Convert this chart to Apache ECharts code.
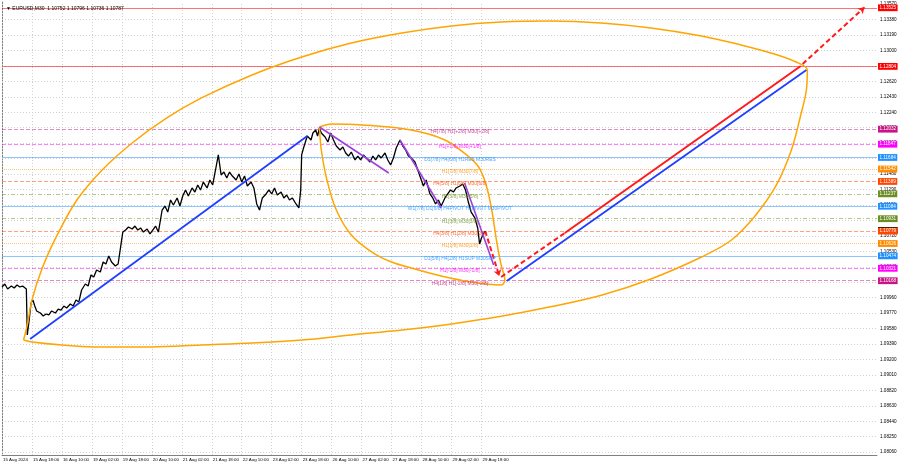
<!DOCTYPE html>
<html><head><meta charset="utf-8">
<script src="https://cdn.jsdelivr.net/npm/echarts@6/dist/echarts.min.js"></script>
<style>html,body{margin:0;padding:0;background:#fff}#c{width:900px;height:468px}</style>
</head><body><div id="c"></div>
<script>
// ---------- DATA ----------
const timeLabels = ['15 Aug 2024','15 Aug 18:00','16 Aug 10:00','19 Aug 02:00','19 Aug 18:00','20 Aug 10:00','21 Aug 02:00','21 Aug 18:00','22 Aug 10:00','23 Aug 02:00','23 Aug 18:00','26 Aug 10:00','27 Aug 02:00','27 Aug 18:00','28 Aug 10:00','29 Aug 02:00','29 Aug 18:00'];
const timeLabelBars = [0,32,64,96,128,160,192,224,256,288,320,352,384,416,448,480,512];
const priceTicks = [1.08060,1.08250,1.08440,1.08630,1.08820,1.09010,1.09200,1.09390,1.09580,1.09770,1.09960,1.10150,1.10340,1.10530,1.10720,1.10910,1.11100,1.11290,1.11480,1.11670,1.11860,1.12050,1.12240,1.12430,1.12620,1.12810,1.13000,1.13190,1.13380,1.13570];
const titleText = 'EURUSD,M30  1.10752 1.10796 1.10736 1.10787';
const currentPrice = 1.10787;

// M30 closes, [bar index, price]
const priceBars = [[0,1.10091],[3,1.10128],[6,1.10066],[10,1.10103],[13,1.10079],[16,1.10116],[19,1.10091],[22,1.10103],[26,1.10066],[27,1.09501],[29,1.09685],[31,1.09894],[33,1.09931],[35,1.09857],[37,1.09796],[41,1.09771],[44,1.09734],[47,1.09759],[50,1.09747],[53,1.09796],[57,1.09771],[60,1.09820],[63,1.09808],[66,1.09857],[69,1.09833],[73,1.09882],[76,1.09857],[79,1.09931],[82,1.09906],[85,1.10054],[89,1.10128],[92,1.10103],[95,1.10239],[98,1.10214],[101,1.10300],[105,1.10275],[108,1.10398],[111,1.10374],[114,1.10472],[117,1.10398],[121,1.10349],[124,1.10374],[127,1.10608],[129,1.10767],[132,1.10792],[135,1.10829],[139,1.10804],[142,1.10841],[145,1.10792],[148,1.10817],[151,1.10767],[155,1.10804],[158,1.10743],[161,1.10792],[164,1.10841],[167,1.10767],[171,1.11038],[174,1.11087],[177,1.11013],[180,1.11161],[183,1.11100],[187,1.11186],[190,1.11087],[193,1.11210],[196,1.11284],[199,1.11210],[203,1.11309],[206,1.11259],[209,1.11346],[212,1.11284],[215,1.11382],[219,1.11309],[222,1.11407],[225,1.11346],[228,1.11530],[231,1.11715],[234,1.11469],[237,1.11505],[240,1.11432],[243,1.11505],[246,1.11456],[250,1.11407],[253,1.11481],[256,1.11382],[259,1.11456],[262,1.11333],[266,1.11382],[269,1.11309],[272,1.11112],[275,1.11038],[278,1.11186],[282,1.11235],[285,1.11284],[288,1.11235],[291,1.11309],[294,1.11223],[298,1.11259],[301,1.11186],[304,1.11223],[307,1.11161],[310,1.11186],[314,1.11112],[317,1.11063],[319,1.11284],[320,1.11715],[322,1.11801],[324,1.11874],[326,1.11948],[330,1.11899],[332,1.11985],[335,1.12022],[337,1.11948],[339,1.12047],[341,1.11985],[345,1.11936],[348,1.11874],[351,1.11985],[354,1.11899],[357,1.11825],[361,1.11776],[364,1.11813],[367,1.11739],[370,1.11702],[373,1.11751],[377,1.11653],[380,1.11702],[383,1.11653],[386,1.11715],[389,1.11678],[393,1.11628],[396,1.11702],[399,1.11653],[402,1.11715],[405,1.11678],[409,1.11739],[412,1.11653],[415,1.11592],[418,1.11678],[421,1.11801],[425,1.11899],[428,1.11825],[431,1.11776],[434,1.11702],[437,1.11678],[441,1.11628],[444,1.11530],[447,1.11432],[450,1.11333],[453,1.11407],[457,1.11235],[460,1.11186],[463,1.11112],[466,1.11161],[469,1.11087],[473,1.11186],[476,1.11235],[479,1.11284],[482,1.11259],[485,1.11309],[489,1.11333],[492,1.11358],[495,1.11284],[498,1.11136],[501,1.11013],[505,1.10940],[508,1.10817],[510,1.10620],[512,1.10694],[514,1.10743],[516,1.10780]];

// Murrey levels
const levelPrices = [1.12032,1.11847,1.11684,1.11542,1.11389,1.11237,1.11084,1.10931,1.10779,1.10626,1.10474,1.10321,1.10168];
const levelNames = ['H4[7/8] H1[+2/8] M30[+2/8]','H1[+1/8] M30[+1/8]','D1[7/8] H4[6/8] H1RES M30RES','H1[7/8] M30[7/8]','H4[5/8] H1[6/8] M30[6/8]','H1[5/8] M30[5/8]','W1[7/8] D1[6/8] H4PIVOT H1PIVOT M30PIVOT','H1[3/8] M30[3/8]','H4[3/8] H1[2/8] M30[2/8]','H1[1/8] M30[1/8]','D1[5/8] H4[2/8] H1SUP M30SUP','H1[-1/8] M30[-1/8]','H4[1/8] H1[-2/8] M30[-2/8]'];
const targetPrices = [1.13525,1.12804];
const levelTextBar = 489;

// trend lines [bar, price] pairs
const blueLine1 = [[30,1.09451],[326,1.11948]];
const blueLine2 = [[539,1.10165],[859,1.12760]];
const purpleLine1 = [[339,1.12059],[413,1.11493]];
const purpleLine2 = [[425,1.11899],[469,1.11063]];
const purpleLine3 = [[494,1.11370],[525,1.10362]];
const redDash1 = [[516,1.10780],[531,1.10226]];
const redDash2 = [[533,1.10214],[601,1.10755]];
const redSolid = [[601,1.10755],[853,1.12809]];
const redDash3 = [[855,1.12834],[921,1.13530]];

// ellipses
const smallEllipse = [[339,1.12059],[352,1.12096],[384,1.12084],[437,1.12022],[473,1.11899],[496,1.11715],[509,1.11567],[517,1.11346],[523,1.11038],[528,1.10669],[533,1.10362],[537,1.10177],[533,1.10116],[501,1.10152],[469,1.10226],[437,1.10325],[416,1.10398],[395,1.10521],[373,1.10731],[357,1.11038],[347,1.11407],[341,1.11776],[339,1.12059]];
const bigEllipse = [[23,1.09439],[27,1.09624],[32,1.09931],[43,1.10325],[59,1.10731],[80,1.11161],[107,1.11530],[139,1.11862],[176,1.12170],[213,1.12416],[267,1.12699],[320,1.12920],[373,1.13092],[427,1.13215],[480,1.13301],[533,1.13350],[587,1.13363],[640,1.13338],[693,1.13277],[747,1.13178],[789,1.13068],[821,1.12969],[848,1.12858],[860,1.12760],[859,1.12514],[853,1.12207],[843,1.11776],[827,1.11346],[805,1.10977],[779,1.10669],[747,1.10460],[693,1.10190],[640,1.09990],[587,1.09850],[533,1.09730],[480,1.09636],[427,1.09562],[373,1.09501],[320,1.09439],[267,1.09402],[213,1.09378],[160,1.09353],[107,1.09353],[64,1.09378],[32,1.09414],[23,1.09439]];

// ---------- STYLE ----------
const levelColors = ['#c71585','#ff00ff','#1e90ff','#ff8c00','#ff4500','#6b8e23','#1e90ff','#6b8e23','#ff4500','#ff8c00','#1e90ff','#ff00ff','#c71585'];
const levelDash = ['dashed','dashed','solid','dotted','dashed',[4,2,1,2],'solid',[4,2,1,2],'dashed','dotted','solid','dashed','dashed'];
const FONT = 'Liberation Sans, Arial, sans-serif';
const X_MAX = 934.4, Y_MIN = 1.08025, Y_MAX = 1.13596;

function rgba(hex, a){
  const n = parseInt(hex.slice(1),16);
  return 'rgba('+((n>>16)&255)+','+((n>>8)&255)+','+(n&255)+','+a+')';
}

const chart = echarts.init(document.getElementById('c'), null, {renderer:'canvas'});

function seg(data, color, width, type, z){
  return {type:'line', data, symbol:'none', silent:true, z:z||6, animation:false,
    lineStyle:{color, width, type:type||'solid'}};
}
function boxLabel(color, txtColor){
  return {show:true, position:'end', distance:1, formatter:(p)=>Number(p.value).toFixed(5),
    backgroundColor:color, color:txtColor||'#fff', fontSize:4.6, fontFamily:FONT, padding:[1.2,1.5,0.6,1.5], opacity:1};
}

const gridLinesH = priceTicks.slice(0, priceTicks.length-1).map(v=>({yAxis:v}));
const gridLinesV = timeLabelBars.map(v=>({xAxis:v}));

const levelMarks = levelPrices.map((p,i)=>({yAxis:p,
  lineStyle:{color:rgba(levelColors[i],0.5), type:levelDash[i], width:1},
  label:boxLabel(levelColors[i])}));
const targetMarks = targetPrices.map(p=>({yAxis:p,
  lineStyle:{color:'rgba(255,0,0,0.55)', type:'solid', width:1},
  label:boxLabel('#ff0000')}));

const series = [
  // grid
  {type:'line', data:[], silent:true, z:1, markLine:{silent:true, precision:5, symbol:['none','none'], animation:false,
    label:{show:false}, lineStyle:{color:'#d0d0d0', type:[1,2], width:1},
    data: gridLinesH.concat(gridLinesV)}},
  // current price box
  {type:'line', data:[], silent:true, z:3, markLine:{silent:true, precision:5, symbol:['none','none'], animation:false,
    lineStyle:{color:'rgba(0,0,0,0)'}, data:[{yAxis:currentPrice, label:boxLabel('#000000')}]}},
  // levels
  {type:'line', data:[], silent:true, z:4, markLine:{silent:true, precision:5, symbol:['none','none'], animation:false,
    data: levelMarks.concat(targetMarks)}},
  // level texts
  {type:'scatter', symbolSize:0, silent:true, z:7, animation:false,
    data: levelPrices.map((p,i)=>({value:[levelTextBar,p], name:levelNames[i],
      label:{show:true, position:'inside', offset:[0,2.5], formatter:levelNames[i], color:levelColors[i], fontSize:4.9, fontFamily:FONT}}))},
  // price
  {type:'line', data:priceBars, symbol:'none', silent:true, z:5, animation:false, lineStyle:{color:'#000', width:1.3}},
  // ellipses
  {type:'line', data:bigEllipse, smooth:0.35, symbol:'none', silent:true, z:6, animation:false, lineStyle:{color:'#ffa500', width:1.5}},
  {type:'line', data:smallEllipse, smooth:0.35, symbol:'none', silent:true, z:6, animation:false, lineStyle:{color:'#ffa500', width:1.5}},
  seg(blueLine1,'#1f3fff',1.8),
  seg(blueLine2,'#1f3fff',1.8),
  seg(purpleLine1,'#9b40e0',1.6),
  seg(purpleLine2,'#9b40e0',1.6),
  seg(purpleLine3,'#9b40e0',1.6),
  seg(redSolid,'#ff1a1a',2),
  seg(redDash2,'#ff1a1a',2,[5,3]),
  // arrowed red dashed lines
  {type:'line', data:[], silent:true, z:8, markLine:{silent:true, precision:5, animation:false, symbol:['none','arrow'], symbolSize:6,
    label:{show:false}, lineStyle:{color:'#ff1a1a', width:2, type:[5,3]},
    data:[[{coord:redDash1[0]},{coord:redDash1[1]}],[{coord:redDash3[0]},{coord:redDash3[1]}]]}}
];

chart.setOption({
  animation:false,
  backgroundColor:'#ffffff',
  title:{text:'\u25BC '+titleText, left:1, top:1, textStyle:{fontSize:5, fontWeight:'normal', color:'#000', fontFamily:FONT}},
  grid:{left:1, right:23, top:2, bottom:13},
  xAxis:{type:'value', min:0, max:X_MAX,
    axisLine:{show:true, onZero:false, lineStyle:{color:'#808080', width:1}},
    axisTick:{show:false}, splitLine:{show:false},
    axisLabel:{customValues:timeLabelBars, formatter:(v)=>{const i=timeLabelBars.indexOf(Math.round(v)); return i>=0?timeLabels[i]:'';},
      align:'left', margin:3, fontSize:4.4, color:'#000', fontFamily:FONT, padding:[0,0,0,1]}},
  yAxis:{type:'value', position:'right', min:Y_MIN, max:Y_MAX,
    axisLine:{show:true, lineStyle:{color:'#808080', width:1}},
    axisTick:{show:false}, splitLine:{show:false},
    axisLabel:{customValues:priceTicks, formatter:(v)=>v.toFixed(5), margin:3, fontSize:4.6, color:'#000', fontFamily:FONT}},
  series
});
</script></body></html>
